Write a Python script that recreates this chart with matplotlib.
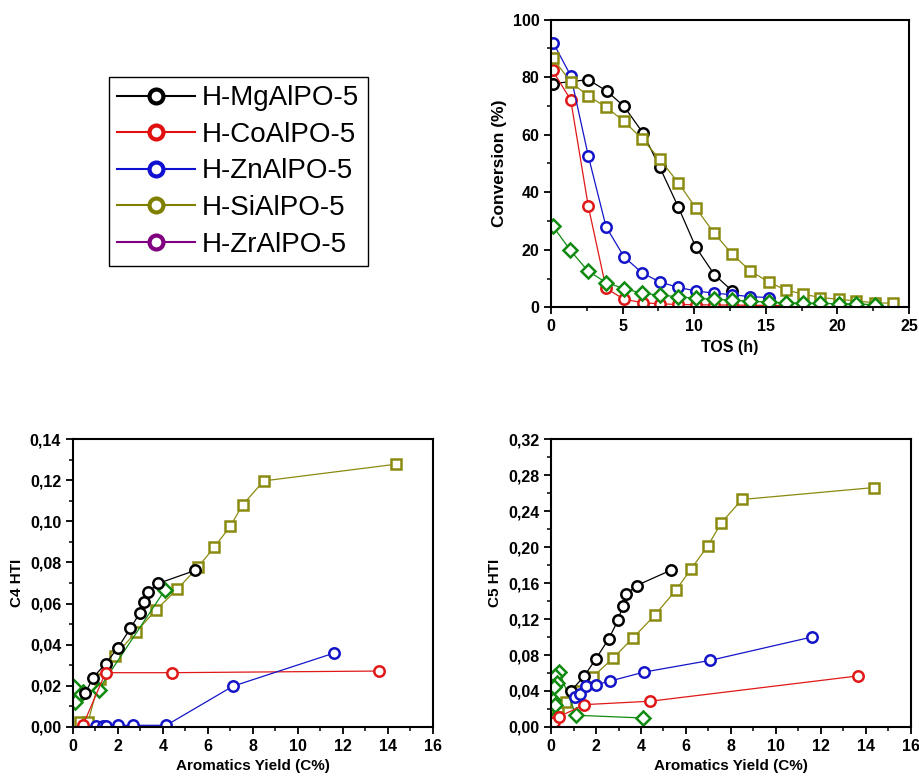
import matplotlib
matplotlib.use("Agg")
import matplotlib.pyplot as plt
from matplotlib.lines import Line2D
from matplotlib.ticker import MultipleLocator, FuncFormatter

plt.rcParams['font.family'] = ['Liberation Sans', 'DejaVu Sans']

# --- conversion vs time on stream ---
tos_mg = [0.1, 2.6, 3.9, 5.1, 6.4, 7.6, 8.9, 10.1, 11.4, 12.65]
conv_mg = [77.7, 79.1, 75.1, 69.8, 60.7, 48.6, 34.7, 21.0, 11.4, 5.7]
tos_co = [0.1, 1.37, 2.6, 3.84, 5.1, 6.4, 7.6, 8.9, 10.1, 11.4, 12.65, 13.9, 15.2, 16.4]
conv_co = [82.3, 72.1, 35.1, 6.6, 2.8, 1.6, 1.2, 1.0, 0.9, 0.8, 0.8, 0.7, 0.7, 0.6]
tos_zn = [0.16, 1.37, 2.6, 3.84, 5.1, 6.35, 7.6, 8.9, 10.1, 11.4, 12.65, 13.9, 15.2]
conv_zn = [91.8, 80.5, 52.6, 28.0, 17.5, 12.0, 8.8, 6.9, 5.7, 4.9, 4.4, 3.7, 3.4]
tos_si = [0.1, 1.37, 2.6, 3.84, 5.1, 6.35, 7.6, 8.9, 10.1, 11.4, 12.65, 13.9, 15.2,
          16.4, 17.6, 18.8, 20.1, 21.3, 22.6, 23.9]
conv_si = [86.7, 78.3, 73.4, 69.6, 64.6, 58.6, 51.4, 43.2, 34.6, 25.7, 18.5, 12.7, 8.8,
           6.0, 4.6, 3.4, 2.8, 2.2, 1.6, 1.4]
tos_zr = [0.1, 1.33, 2.56, 3.84, 5.1, 6.35, 7.6, 8.9, 10.1, 11.4, 12.65, 13.9, 15.2,
          16.4, 17.6, 18.8, 20.1, 21.3, 22.6]
conv_zr = [28.4, 19.9, 12.7, 8.6, 6.5, 4.9, 4.2, 3.7, 3.1, 2.8, 2.5, 2.1, 1.8,
           1.6, 1.4, 1.4, 1.2, 1.2, 0.9]

# --- C4 HTI vs aromatics yield ---
c4_ar_mg = [0.55, 0.89, 1.45, 2.0, 2.55, 2.96, 3.14, 3.36, 3.79, 5.45]
c4_mg = [0.0165, 0.0239, 0.0308, 0.0385, 0.0479, 0.0552, 0.0608, 0.0657, 0.0698, 0.0762]
c4_ar_co = [0.45, 1.45, 4.41, 13.63]
c4_co = [0.001, 0.0264, 0.0264, 0.0272]
c4_ar_zn = [1.04, 1.33, 1.48, 2.0, 2.67, 4.15, 7.11, 11.63]
c4_zn = [0.0003, 0.0004, 0.0005, 0.0008, 0.0008, 0.0008, 0.0198, 0.036]
c4_ar_si = [0.3, 0.67, 1.19, 1.85, 2.79, 3.7, 4.65, 5.57, 6.28, 7.0, 7.56, 8.49, 14.37]
c4_si = [0.0024, 0.0024, 0.0235, 0.0344, 0.046, 0.057, 0.0671, 0.0779, 0.0873, 0.0977,
         0.1082, 0.1197, 0.1278]
c4_ar_zr = [4.1, 1.14, 0.44, 0.3, 0.2, 0.1, 0.05]
c4_zr = [0.0668, 0.0182, 0.017, 0.0158, 0.0154, 0.0122, 0.0195]

# --- C5 HTI vs aromatics yield ---
c5_ar_mg = [0.9, 1.47, 1.99, 2.57, 2.98, 3.18, 3.35, 3.8, 5.33]
c5_mg = [0.0405, 0.0564, 0.0756, 0.0983, 0.1187, 0.1342, 0.1476, 0.1572, 0.1743]
c5_ar_co = [0.12, 0.37, 1.47, 4.41, 13.64]
c5_co = [0.006, 0.0116, 0.0248, 0.0286, 0.0567]
c5_ar_zn = [1.05, 1.3, 1.55, 2.0, 2.62, 4.13, 7.07, 11.6]
c5_zn = [0.033, 0.037, 0.046, 0.047, 0.051, 0.061, 0.074, 0.100]
c5_ar_si = [0.31, 0.67, 1.17, 1.85, 2.77, 3.66, 4.61, 5.55, 6.22, 6.97, 7.57, 8.49, 14.38]
c5_si = [0.0226, 0.0278, 0.040, 0.0556, 0.0768, 0.0994, 0.1242, 0.152, 0.1754, 0.2013,
         0.2269, 0.2529, 0.2662]
c5_ar_zr = [4.08, 1.11, 0.37, 0.18, 0.25, 0.15, 0.1, 0.18, 0.07]
c5_zr = [0.010, 0.013, 0.0612, 0.0564, 0.049, 0.044, 0.0297, 0.024, 0.0074]

legend_labels = ['H-MgAlPO-5', 'H-CoAlPO-5', 'H-ZnAlPO-5', 'H-SiAlPO-5', 'H-ZrAlPO-5']
legend_colors = ['#000000', '#e01010', '#1010d0', '#808000', '#800080']

BLACK = '#000000'
RED = '#e01818'
BLUE = '#1414c8'
OLIVE = '#8a8a10'
GREEN = '#108a10'


def series(ax, x, y, color, marker, ms=7.5, lc=None):
    ax.plot(x, y, color=lc or color, lw=0.9, marker=marker, ms=ms,
            mfc='white', mec=color, mew=1.8)


def style_axes(ax, xmax, xmaj, xmin, ymax, ymaj, ymin, comma=False):
    ax.set_xlim(0, xmax)
    ax.set_ylim(0, ymax)
    ax.xaxis.set_major_locator(MultipleLocator(xmaj))
    ax.xaxis.set_minor_locator(MultipleLocator(xmin))
    ax.yaxis.set_major_locator(MultipleLocator(ymaj))
    ax.yaxis.set_minor_locator(MultipleLocator(ymin))
    if comma:
        ax.yaxis.set_major_formatter(FuncFormatter(lambda v, p: f'{v:.2f}'.replace('.', ',')))
    ax.tick_params(which='major', direction='out', length=5, width=1.3, labelsize=11.5)
    ax.tick_params(which='minor', direction='out', length=3, width=1.1)
    for lab in ax.get_xticklabels() + ax.get_yticklabels():
        lab.set_fontweight('bold')
    for sp in ax.spines.values():
        sp.set_linewidth(1.5)


fig = plt.figure(figsize=(9.2, 7.8), dpi=100)

# top right: conversion
ax1 = fig.add_axes([0.599, 0.606, 0.389, 0.369])
series(ax1, tos_mg, conv_mg, BLACK, 'o')
series(ax1, tos_co, conv_co, RED, 'o')
series(ax1, tos_zn, conv_zn, BLUE, 'o')
series(ax1, tos_si, conv_si, OLIVE, 's', ms=6.5)
series(ax1, tos_zr, conv_zr, GREEN, 'D', ms=7)
style_axes(ax1, 25, 5, 2.5, 100, 20, 10)
ax1.set_xlabel('TOS (h)', fontsize=11.5, fontweight='bold')
ax1.set_ylabel('Conversion (%)', fontsize=12.5, fontweight='bold')

# bottom left: C4 HTI
ax2 = fig.add_axes([0.0793, 0.068, 0.391, 0.369])
series(ax2, c4_ar_si, c4_si, OLIVE, 's', ms=6.5)
series(ax2, c4_ar_zr, c4_zr, GREEN, 'D', ms=7)
series(ax2, c4_ar_mg, c4_mg, BLACK, 'o')
series(ax2, c4_ar_co, c4_co, RED, 'o')
series(ax2, c4_ar_zn, c4_zn, BLUE, 'o')
style_axes(ax2, 16, 2, 1, 0.14, 0.02, 0.01, comma=True)
ax2.set_xlabel('Aromatics Yield (C%)', fontsize=11, fontweight='bold')
ax2.set_ylabel('C4 HTI', fontsize=11, fontweight='bold')

# bottom right: C5 HTI
ax3 = fig.add_axes([0.599, 0.068, 0.391, 0.369])
series(ax3, c5_ar_si, c5_si, OLIVE, 's', ms=6.5)
series(ax3, c5_ar_zr, c5_zr, GREEN, 'D', ms=7)
series(ax3, c5_ar_mg, c5_mg, BLACK, 'o')
series(ax3, c5_ar_co, c5_co, RED, 'o')
series(ax3, c5_ar_zn, c5_zn, BLUE, 'o')
style_axes(ax3, 16, 2, 1, 0.32, 0.04, 0.02, comma=True)
ax3.set_xlabel('Aromatics Yield (C%)', fontsize=11, fontweight='bold')
ax3.set_ylabel('C5 HTI', fontsize=11, fontweight='bold')

# legend in the empty upper-left area
handles = [Line2D([], [], color=c, lw=1.5, marker='o', ms=10, mfc='white', mec=c, mew=3)
           for c in legend_colors]
leg = fig.legend(handles, legend_labels, loc='upper left',
                 bbox_to_anchor=(109 / 920, 1 - 77 / 780), fontsize=20,
                 frameon=True, fancybox=False, edgecolor='black', framealpha=1,
                 handlelength=2.8, handletextpad=0.25, labelspacing=0.38,
                 borderpad=0.3, borderaxespad=0)
leg.get_frame().set_linewidth(1.0)

fig.savefig('out.png', dpi=100)
